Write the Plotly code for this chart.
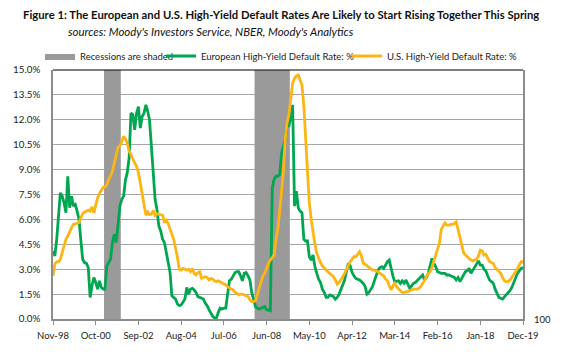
import pandas as pd
import plotly.graph_objects as go

START = "1998-11-01"

EU_RATE = [4.1, 3.8, 4.8, 6.6, 7.6, 7.4, 7.0, 6.4, 8.6, 6.7, 7.4, 6.8, 6.9, 6.5, 6.0, 4.7, 3.6, 3.4, 3.35, 3.1,
           1.3, 2.0, 2.5, 2.2, 1.8, 2.3, 1.9, 1.8, 1.8, 3.2, 3.4, 3.6, 4.6, 5.1, 4.6, 5.6, 6.8, 7.2, 7.4, 8.4,
           8.8, 9.7, 12.4, 12.3, 11.4, 12.4, 12.8, 11.5, 12.2, 12.4, 12.9, 12.5, 12.0, 10.4, 8.6, 7.2, 6.6, 5.6, 5.3, 4.8,
           4.6, 4.0, 3.4, 2.8, 1.4, 1.3, 1.2, 0.9, 0.8, 0.85, 1.0, 1.2, 1.9, 1.5, 1.8, 1.85, 1.75, 1.6, 1.35, 1.3,
           1.25, 1.2, 0.95, 0.8, 0.55, 0.3, 0.15, 0.05, 0.05, 0.4, 0.65, 0.6, 0.65, 0.65, 1.5, 2.3, 2.4, 2.6, 2.8, 2.85,
           2.85, 2.6, 2.3, 2.75, 2.8, 2.6, 2.35, 1.6, 1.15, 0.75, 0.65, 0.6, 0.65, 0.7, 0.75, 0.55, 0.55, 0.5, 7.9, 8.4,
           8.6, 8.6, 8.7, 10.0, 10.4, 10.8, 11.7, 11.6, 12.2, 12.9, 6.8, 7.7, 6.7, 6.5, 6.4, 4.8, 4.7, 4.7, 3.75, 3.55,
           3.85, 3.15, 2.75, 2.4, 2.2, 1.8, 1.6, 1.3, 1.3, 1.45, 1.4, 1.35, 1.2, 1.3, 1.5, 1.75, 2.1, 2.35, 2.9, 3.35,
           3.2, 2.8, 2.6, 2.45, 2.4, 2.35, 2.25, 2.15, 1.95, 1.5, 1.6, 1.75, 1.95, 2.3, 2.6, 2.95, 3.1, 3.15, 3.05, 3.3,
           3.45, 3.55, 2.95, 2.55, 2.25, 2.3, 2.3, 2.15, 2.3, 2.15, 2.35, 2.1, 1.85, 2.0, 2.15, 2.2, 2.3, 2.45, 2.55, 2.65,
           2.35, 2.5, 2.75, 3.15, 3.65, 3.35, 3.15, 2.85, 2.8, 2.75, 2.75, 2.75, 2.65, 2.65, 2.6, 2.55, 2.5, 2.35, 2.5, 2.25,
           2.45, 2.6, 2.85, 2.9, 3.05, 2.75, 2.95, 3.1, 3.35, 3.5, 3.25, 3.25, 3.0, 2.9, 2.6, 2.35, 2.25, 2.15, 1.8, 1.6,
           1.3, 1.25, 1.2, 1.35, 1.45, 1.55, 1.7, 1.9, 2.2, 2.45, 2.75, 2.9, 3.05, 3.1]

US_RATE = [2.6, 3.3, 3.45, 3.45, 3.6, 4.0, 4.5, 4.8, 5.0, 5.3, 5.5, 5.7, 5.75, 5.75, 5.8, 6.1, 6.35, 6.45, 6.5, 6.55,
           6.5, 6.75, 6.4, 6.9, 7.3, 7.55, 7.8, 7.95, 7.95, 8.1, 8.4, 8.6, 8.9, 9.4, 10.0, 10.35, 10.45, 10.65, 11.0, 10.85,
           10.6, 10.1, 9.9, 9.6, 9.4, 9.2, 8.8, 8.2, 7.5, 6.8, 6.25, 6.45, 6.3, 6.3, 6.55, 6.25, 6.35, 6.3, 6.25, 6.25,
           5.8, 5.95, 5.75, 5.35, 5.1, 4.8, 4.3, 3.7, 3.0, 2.95, 3.05, 3.0, 2.95, 3.0, 2.85, 3.05, 2.75, 2.65, 2.8, 2.85,
           2.45, 2.5, 2.55, 2.5, 2.35, 2.45, 2.4, 2.3, 2.25, 2.3, 2.25, 2.2, 2.15, 2.05, 1.95, 1.85, 1.8, 1.75, 1.6, 1.55,
           1.45, 1.5, 1.5, 1.45, 1.4, 1.35, 1.15, 1.05, 1.05, 1.1, 1.5, 1.9, 2.15, 2.6, 2.75, 3.1, 3.35, 3.55, 3.7, 3.85,
           4.8, 5.4, 6.5, 7.6, 8.8, 10.8, 11.8, 12.3, 13.2, 14.2, 14.5, 14.65, 14.7, 14.35, 14.1, 12.8, 10.8, 8.6, 7.0, 6.0,
           5.1, 4.5, 3.95, 3.65, 3.4, 3.2, 3.05, 2.95, 2.85, 2.75, 2.65, 2.55, 2.35, 2.1, 2.2, 2.35, 2.55, 2.75, 3.0, 3.25,
           3.45, 3.6, 3.75, 3.75, 3.9, 4.05, 3.8, 3.35, 3.3, 3.2, 3.15, 3.05, 2.95, 2.95, 2.9, 2.85, 2.75, 2.65, 2.6, 2.4,
           2.3, 2.0, 1.75, 2.0, 2.15, 1.95, 1.8, 1.7, 1.6, 1.6, 1.65, 1.65, 1.7, 1.75, 1.8, 1.8, 1.8, 1.85, 1.95, 2.15,
           2.3, 2.55, 2.75, 2.85, 3.1, 3.5, 3.9, 4.3, 4.55, 5.4, 5.6, 5.8, 5.65, 5.65, 5.7, 5.7, 5.75, 5.85, 5.4, 4.9,
           4.5, 4.0, 3.85, 3.75, 3.6, 3.55, 3.5, 3.55, 3.6, 3.8, 4.15, 4.1, 3.85, 3.9, 3.7, 3.45, 3.4, 3.35, 3.1, 3.0,
           2.9, 2.75, 2.5, 2.3, 2.25, 2.25, 2.35, 2.5, 2.65, 2.85, 3.05, 3.3, 3.45, 3.45]

REC_START = ["2001-03-01", "2007-12-01"]
REC_END = ["2001-11-01", "2009-06-01"]

TICK_LABELS = ["Nov-98", "Oct-00", "Sep-02", "Aug-04", "Jul-06", "Jun-08",
               "May-10", "Apr-12", "Mar-14", "Feb-16", "Jan-18", "Dec-19"]
Y_MAX = 15.0
Y_STEP = 1.5

months = pd.date_range(START, periods=len(EU_RATE), freq="MS")
tick_dates = [pd.Timestamp(START) + pd.DateOffset(months=23 * i) for i in range(len(TICK_LABELS))]

# recession rectangles (monthly columns: half a month either side)
half = pd.Timedelta(days=15)
rx, ry = [], []
for s, e in zip(REC_START, REC_END):
    a = pd.Timestamp(s) - half
    b = pd.Timestamp(e) + half
    rx += [a, a, b, b, a, None]
    ry += [0, Y_MAX, Y_MAX, 0, 0, None]

FONT = "Lato"
GREEN = "#00A650"
ORANGE = "#FDB515"
GRAY = "#9A9A9A"

fig = go.Figure()
fig.add_trace(go.Scatter(x=rx, y=ry, mode="lines", fill="toself", fillcolor=GRAY,
                         line=dict(width=0, color=GRAY), name="Recessions are shaded",
                         legend="legend", hoverinfo="skip"))
fig.add_trace(go.Scatter(x=months, y=EU_RATE, mode="lines",
                         line=dict(color=GREEN, width=2.8),
                         name="European High-Yield Default Rate: %", legend="legend2"))
fig.add_trace(go.Scatter(x=months, y=US_RATE, mode="lines",
                         line=dict(color=ORANGE, width=2.8),
                         name="U.S. High-Yield Default Rate: %", legend="legend3"))

# the page body adds an 8px offset; layout positions below are in window pixels minus that offset
OFF = 8
W, H = 566, 363
PL, PR, PT, PB = 53, 523, 70, 319          # plot area in window pixels
L, R, T, B = PL - OFF, W - (PR - OFF), PT - OFF, H - (PB - OFF)
pw = PR - PL
ph = PB - PT

def lx(px):
    return (px - PL) / pw

def cx(px):
    return (px - OFF) / W

def cy(py):
    return 1 - (py - OFF) / H

TXT_OFF = 40
leg_common = dict(orientation="h", xref="container", yref="container",
                  yanchor="middle", y=cy(56), xanchor="left",
                  font=dict(family=FONT, size=9.5, color="#222"), bgcolor="rgba(0,0,0,0)",
                  borderwidth=0)

fig.update_layout(
    width=W, height=H,
    margin=dict(l=L, r=R, t=T, b=B, autoexpand=False),
    paper_bgcolor="white", plot_bgcolor="white",
    font=dict(family=FONT, color="#222"),
    title=dict(text="<b>Figure 1: The European and U.S. High-Yield Default Rates Are Likely to Start Rising Together This Spring</b>",
               x=cx(23), xanchor="left", xref="container", y=cy(15), yanchor="middle", yref="container",
               font=dict(family=FONT, size=11.3, color="#111")),
    legend=dict(leg_common, x=cx(80 - TXT_OFF)),
    legend2=dict(leg_common, x=cx(201 - TXT_OFF)),
    legend3=dict(leg_common, x=cx(387 - TXT_OFF)),
    xaxis=dict(type="date", range=[months[0], months[-1]], tickvals=tick_dates, ticktext=TICK_LABELS,
               showgrid=False, showline=True, linecolor="#8C8C8C", linewidth=1.5,
               ticks="outside", ticklen=4, tickcolor="#8C8C8C", tickwidth=1.2, ticklabelstandoff=3,
               tickfont=dict(family=FONT, size=9.5, color="#222"), zeroline=False),
    yaxis=dict(range=[0, Y_MAX], dtick=Y_STEP, tick0=0, tickformat=".1f", ticksuffix="%",
               showgrid=True, gridcolor="#A6A6A6", gridwidth=1.3,
               showline=True, linecolor="#8C8C8C", linewidth=1.5, mirror=True,
               ticks="", ticklabelstandoff=9, tickfont=dict(family=FONT, size=9.8, color="#222"), zeroline=False),
    annotations=[
        dict(text="<i>sources: Moody's Investors Service, NBER, Moody's Analytics</i>",
             xref="paper", yref="paper", x=lx(66), y=1 + (PT - 32) / ph, xanchor="left", yanchor="middle",
             showarrow=False, font=dict(family=FONT, size=11.4, color="#111")),
        dict(text="100", xref="paper", yref="paper", x=1, y=0, xanchor="left", yanchor="middle",
             xshift=9, showarrow=False, font=dict(family=FONT, size=9.5, color="#222")),
    ],
    shapes=[dict(type="line", xref="paper", yref="paper", x0=0, x1=1, y0=1, y1=1,
                 line=dict(color="black", width=1.2), layer="above")],
    showlegend=True,
)

fig.write_html("out.html")
